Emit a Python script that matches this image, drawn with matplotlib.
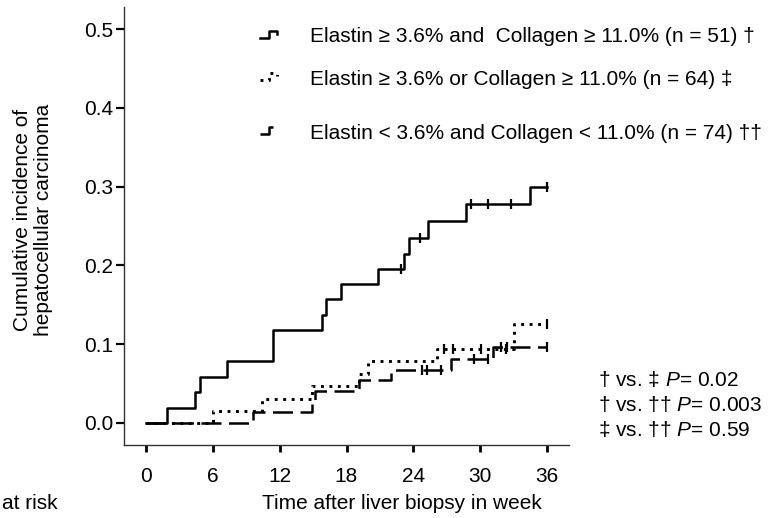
import numpy as np
import matplotlib
matplotlib.use("Agg")
import matplotlib.pyplot as plt
from matplotlib.lines import Line2D

plt.rcParams["font.family"] = ["Liberation Sans", "DejaVu Sans"]
plt.rcParams["mathtext.fontset"] = "custom"
plt.rcParams["mathtext.rm"] = "Liberation Sans"
plt.rcParams["mathtext.it"] = "Liberation Sans:italic"

# ---- data: cumulative incidence step curves (weeks, incidence) ----
both_times = [0, 1.9, 4.4, 4.8, 7.3, 11.4, 15.8, 16.2, 17.5, 20.8, 23.2, 23.6, 25.3, 28.7, 34.5, 36]
both_vals = [0, 0.0196, 0.039, 0.0588, 0.078, 0.118, 0.137, 0.157, 0.176, 0.196, 0.215, 0.235, 0.256, 0.278, 0.300, 0.300]
both_censor = [22.9, 24.6, 29.2, 30.7, 32.8, 36]

either_times = [0, 6.0, 10.4, 14.9, 19.1, 19.9, 26.1, 33.1, 36]
either_vals = [0, 0.0156, 0.031, 0.047, 0.0625, 0.078, 0.094, 0.125, 0.125]
either_censor = [26.8, 27.6, 30.1, 32.3, 36]

neither_times = [0, 9.6, 14.9, 15.2, 19.15, 22.0, 27.35, 31.2, 36]
neither_vals = [0, 0.0135, 0.027, 0.0405, 0.054, 0.0676, 0.081, 0.097, 0.097]
neither_censor = [24.8, 25.2, 26.5, 29.5, 30.7, 31.9, 32.4, 36]

x_ticks = [0, 6, 12, 18, 24, 30, 36]
y_ticks = [0.0, 0.1, 0.2, 0.3, 0.4, 0.5]

labels = [
    "Elastin \u2265 3.6% and  Collagen \u2265 11.0% (n = 51) \u2020",
    "Elastin \u2265 3.6% or Collagen \u2265 11.0% (n = 64) \u2021",
    "Elastin < 3.6% and Collagen < 11.0% (n = 74) \u2020\u2020",
]
p_lines = [
    "\u2020 vs. \u2021 $P$= 0.02",
    "\u2020 vs. \u2020\u2020 $P$= 0.003",
    "\u2021 vs. \u2020\u2020 $P$= 0.59",
]

W, H = 778, 518
FS = 15
LW = 1.8
styles = [
    dict(linestyle="-", lw=LW),
    dict(linestyle=(0, (1, 1.9)), dash_capstyle="butt", lw=2.1),
    dict(linestyle=(0, (8, 3)), dash_capstyle="butt", lw=LW),
]

fig = plt.figure(figsize=(W / 100, H / 100), dpi=100)
ax = fig.add_axes([124 / W, 1 - 445 / H, (569 - 124) / W, (445 - 7) / H])


def px(x, y):
    return x / W, 1 - y / H


series = [
    (both_times, both_vals, both_censor),
    (either_times, either_vals, either_censor),
    (neither_times, neither_vals, neither_censor),
]
for (t, v, c), st in zip(series, styles):
    ax.step(t, v, where="post", color="black", **st)
    t_arr = np.asarray(t)
    idx = np.searchsorted(t_arr, c, side="right") - 1
    cv = np.asarray(v)[idx]
    ax.plot(c, cv, linestyle="none", marker="|", ms=7, mew=1.6, color="black")

ax.set_xlim(-2, 38)
ax.set_ylim(-0.028, 0.528)
ax.set_xticks(x_ticks)
ax.set_xticklabels([str(v) for v in x_ticks])
ax.set_yticks(y_ticks)
ax.set_yticklabels([f"{v:.1f}" for v in y_ticks])
for s in ("top", "right"):
    ax.spines[s].set_visible(False)
for s in ("left", "bottom"):
    ax.spines[s].set_linewidth(1.0)
    ax.spines[s].set_color("#333333")
ax.tick_params(axis="x", direction="out", length=5, width=2, pad=11, labelsize=FS)
ax.tick_params(axis="y", direction="out", length=6, width=1.6, pad=2, labelsize=FS)

# legend drawn as small step glyphs with text
row_y = [35, 77, 131]
for yc, lab, st in zip(row_y, labels, styles):
    gx = [260, 269, 269, 277, 277]
    gy = [yc + 2.5, yc + 2.5, yc - 4, yc - 4, yc - 1]
    xs = [g / W for g in gx]
    ys = [1 - g / H for g in gy]
    fig.add_artist(Line2D(xs, ys, color="black", transform=fig.transFigure, **st))
    fig.text(*px(310, yc + 7.5), lab, fontsize=FS, va="baseline", ha="left")

for yb, line in zip([386, 411, 436], p_lines):
    fig.text(*px(598, yb), line, fontsize=FS, va="baseline", ha="left")

fig.text(*px(33, 220), "Cumulative incidence of\nhepatocellular carcinoma",
         rotation=90, ha="center", va="center", multialignment="center",
         fontsize=FS, linespacing=1.1)
fig.text(*px(402, 509), "Time after liver biopsy in week", ha="center",
         va="baseline", fontsize=FS)
fig.text(*px(2, 509), "at risk", ha="left", va="baseline", fontsize=FS)

fig.savefig("out.png", dpi=100)
